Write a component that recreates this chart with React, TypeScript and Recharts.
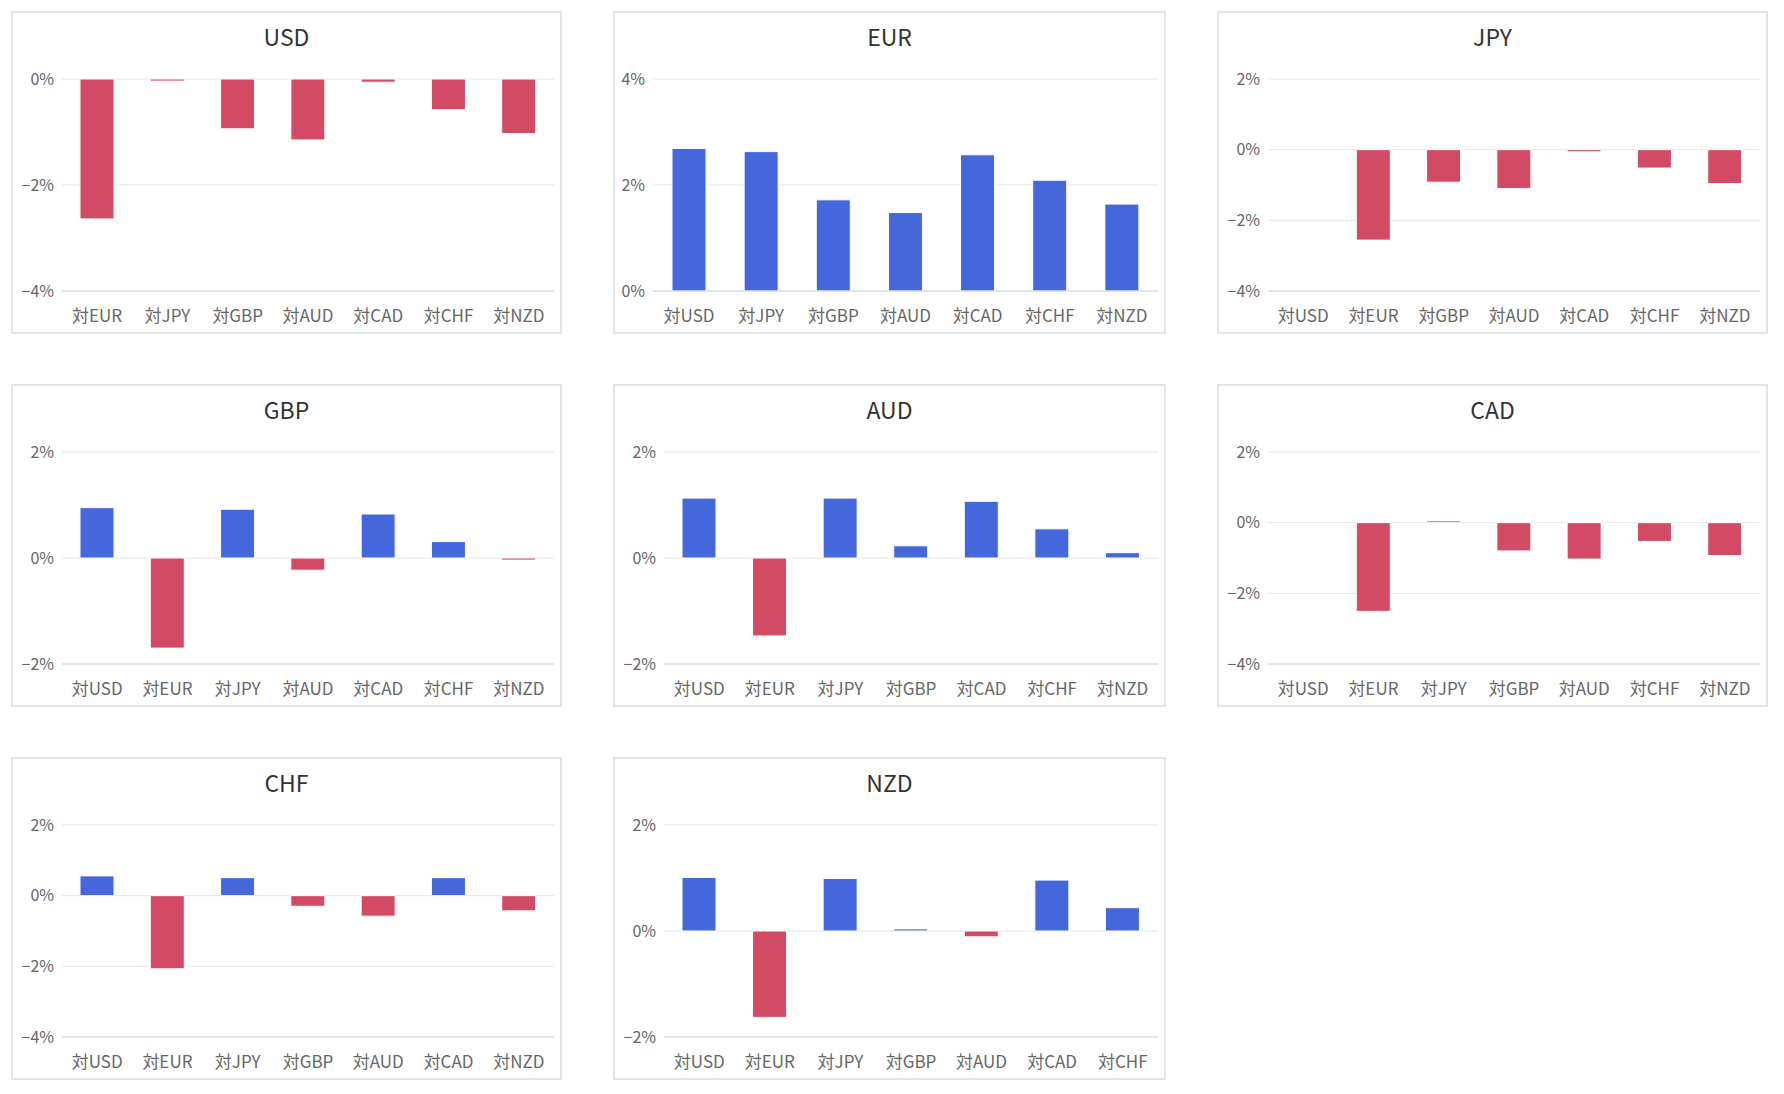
import React from "react";
import { BarChart, Bar, XAxis, YAxis, CartesianGrid, Cell } from "recharts";

// category labels per panel
const usdCats = ["対EUR", "対JPY", "対GBP", "対AUD", "対CAD", "対CHF", "対NZD"];
const eurCats = ["対USD", "対JPY", "対GBP", "対AUD", "対CAD", "対CHF", "対NZD"];
const jpyCats = ["対USD", "対EUR", "対GBP", "対AUD", "対CAD", "対CHF", "対NZD"];
const gbpCats = ["対USD", "対EUR", "対JPY", "対AUD", "対CAD", "対CHF", "対NZD"];
const audCats = ["対USD", "対EUR", "対JPY", "対GBP", "対CAD", "対CHF", "対NZD"];
const cadCats = ["対USD", "対EUR", "対JPY", "対GBP", "対AUD", "対CHF", "対NZD"];
const chfCats = ["対USD", "対EUR", "対JPY", "対GBP", "対AUD", "対CAD", "対NZD"];
const nzdCats = ["対USD", "対EUR", "対JPY", "対GBP", "対AUD", "対CAD", "対CHF"];

// change in % per panel
const usdValues = [-2.64, -0.04, -0.94, -1.15, -0.06, -0.58, -1.03];
const eurValues = [2.69, 2.63, 1.72, 1.48, 2.57, 2.09, 1.64];
const jpyValues = [0, -2.56, -0.92, -1.1, -0.06, -0.52, -0.96];
const gbpValues = [0.95, -1.7, 0.92, -0.23, 0.83, 0.31, -0.04];
const audValues = [1.13, -1.47, 1.13, 0.23, 1.07, 0.55, 0.1];
const cadValues = [0, -2.51, 0.05, -0.8, -1.03, -0.53, -0.93];
const chfValues = [0.56, -2.07, 0.51, -0.3, -0.58, 0.51, -0.43];
const nzdValues = [1.01, -1.63, 0.99, 0.04, -0.11, 0.96, 0.44];

// y axis ticks per panel
const usdTicks = [-4, -2, 0];
const eurTicks = [0, 2, 4];
const jpyTicks = [-4, -2, 0, 2];
const gbpTicks = [-2, 0, 2];
const audTicks = [-2, 0, 2];
const cadTicks = [-4, -2, 0, 2];
const chfTicks = [-4, -2, 0, 2];
const nzdTicks = [-2, 0, 2];

const panels = [
  { title: "USD", cats: usdCats, values: usdValues, ticks: usdTicks },
  { title: "EUR", cats: eurCats, values: eurValues, ticks: eurTicks },
  { title: "JPY", cats: jpyCats, values: jpyValues, ticks: jpyTicks },
  { title: "GBP", cats: gbpCats, values: gbpValues, ticks: gbpTicks },
  { title: "AUD", cats: audCats, values: audValues, ticks: audTicks },
  { title: "CAD", cats: cadCats, values: cadValues, ticks: cadTicks },
  { title: "CHF", cats: chfCats, values: chfValues, ticks: chfTicks },
  { title: "NZD", cats: nzdCats, values: nzdValues, ticks: nzdTicks },
];

const BLUE = "#4467dc";
const RED = "#d34a64";
const FONT = "'Noto Sans CJK JP', 'Noto Sans', sans-serif";
const COL_WIDTHS = [551, 553, 551];

const fmt = (v: number) => (v < 0 ? "\u2212" + Math.abs(v) : String(v)) + "%";

function Panel({ title, cats, values, ticks, w }: any) {
  const data = cats.map((c: string, i: number) => ({ name: c, value: values[i] }));
  const hasNeg = ticks[0] < 0;
  return (
    <div
      style={{
        position: "relative",
        width: w,
        height: 323,
        boxSizing: "border-box",
        border: "2px solid #e1e6ea",
        background: "#fff",
      }}
    >
      <div
        style={{
          position: "absolute",
          top: 10,
          left: 0,
          right: 0,
          textAlign: "center",
          fontFamily: FONT,
          fontSize: 23,
          lineHeight: "26px",
          color: "#333",
        }}
      >
        {title}
      </div>
      <BarChart
        width={w - 4}
        height={319}
        data={data}
        margin={{ top: 66, right: 6, bottom: 11, left: 0 }}
      >
        <CartesianGrid vertical={false} stroke="#e6e6e6" />
        <XAxis
          dataKey="name"
          tickLine={false}
          axisLine={{ stroke: "#ccd6eb" }}
          tickSize={0}
          tickMargin={19}
          height={30}
          interval={0}
          tick={{ fill: "#666", fontSize: 17, fontFamily: FONT }}
        />
        <YAxis
          domain={[ticks[0], ticks[ticks.length - 1]]}
          ticks={ticks}
          tickFormatter={fmt}
          axisLine={false}
          tickLine={false}
          tickSize={0}
          tickMargin={8}
          width={hasNeg ? 49 : 38}
          tick={{ fill: "#666", fontSize: 16, fontFamily: FONT }}
        />
        <Bar dataKey="value" barSize={34} stroke="#fff" strokeWidth={1} isAnimationActive={false}>
          {data.map((d: any, i: number) => (
            <Cell key={`c-${i}`} fill={d.value >= 0 ? BLUE : RED} />
          ))}
        </Bar>
      </BarChart>
    </div>
  );
}

export default function App() {
  return (
    <div
      style={{
        display: "grid",
        gridTemplateColumns: COL_WIDTHS.map((c) => c + "px").join(" "),
        columnGap: 51,
        rowGap: 50,
        padding: "3px 0 0 3px",
        width: 1770,
      }}
    >
      {panels.map((p, i) => (
        <Panel key={p.title} {...p} w={COL_WIDTHS[i % 3]} />
      ))}
    </div>
  );
}
